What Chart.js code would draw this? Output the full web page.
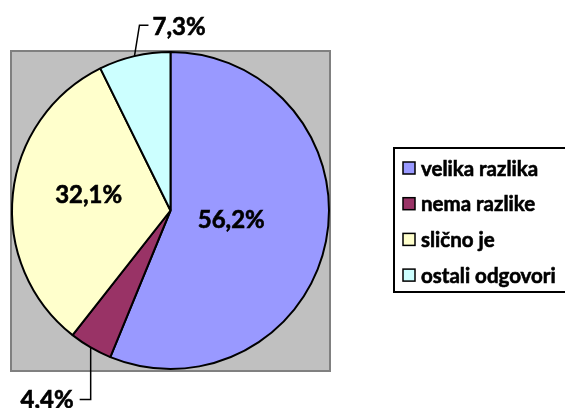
<!DOCTYPE html>
<html>
<head>
<meta charset="utf-8">
<script src="https://cdn.jsdelivr.net/npm/chart.js@4.4.1/dist/chart.umd.min.js"></script>
<style>
    html, body { margin: 0; padding: 0; background: #fff; }
    #wrap { width: 565px; height: 408px; position: relative; }
</style>
</head>
<body>
<div id="wrap"><canvas id="pieChart"></canvas></div>
<script>
(function() {
    'use strict';

    /* ---------- data ---------- */
    const categories = ['velika razlika', 'nema razlike', 'slično je', 'ostali odgovori'];
    const shares = [56.2, 4.4, 32.1, 7.3];
    const percentLabels = shares.map(v => v.toFixed(1).replace('.', ',') + '%');

    /* ---------- style ---------- */
    const sliceColors = ['#9999FF', '#993366', '#FFFFCC', '#CCFFFF'];
    const FONT = 'Lato, "Open Sans", sans-serif';

    // how each value label is placed: inside (shifted from centroid) or outside with a leader line
    const labelPlacement = [
        { inside: true, dx: -17, dy: -6 },
        { inside: false, elbow: [0, 52], tail: -11 },
        { inside: true, dx: -3, dy: -7 },
        { inside: false, elbow: [5, -31], tail: 9 }
    ];

    // fill + thin stroke so the text looks as heavy as the original
    const boldText = (ctx, text, x, y) => {
        ctx.fillText(text, x, y);
        ctx.lineWidth = 0.6;
        ctx.strokeText(text, x, y);
    };

    // gray plot area behind the pie (uses the chart area)
    const plotBackground = {
        id: 'plotBackground',
        beforeDraw(chart) {
            const { ctx, chartArea: a } = chart;
            ctx.save();
            ctx.fillStyle = '#C0C0C0';
            ctx.fillRect(a.left, a.top, a.right - a.left, a.bottom - a.top + 1);
            ctx.strokeStyle = '#808080';
            ctx.lineWidth = 2;
            ctx.strokeRect(a.left, a.top, a.right - a.left, a.bottom - a.top + 1);
            ctx.restore();
        }
    };

    // value labels + leader lines
    const valueLabels = {
        id: 'valueLabels',
        afterDatasetsDraw(chart) {
            const { ctx } = chart;
            const meta = chart.getDatasetMeta(0);
            ctx.save();
            ctx.font = 'bold 24px ' + FONT;
            ctx.fillStyle = '#000';
            ctx.strokeStyle = '#000';
            meta.data.forEach((arc, i) => {
                const p = labelPlacement[i];
                const text = percentLabels[i];
                const mid = (arc.startAngle + arc.endAngle) / 2;
                if (p.inside) {
                    const c = arc.tooltipPosition();
                    ctx.textAlign = 'center';
                    ctx.textBaseline = 'middle';
                    boldText(ctx, text, c.x + p.dx, c.y + p.dy);
                } else {
                    const x0 = arc.x + Math.cos(mid) * arc.outerRadius;
                    const y0 = arc.y + Math.sin(mid) * arc.outerRadius;
                    const x1 = x0 + p.elbow[0];
                    const y1 = y0 + p.elbow[1];
                    const x2 = x1 + p.tail;
                    ctx.lineWidth = 1.5;
                    ctx.beginPath();
                    ctx.moveTo(x0, y0);
                    ctx.lineTo(x1, y1);
                    ctx.lineTo(x2, y1);
                    ctx.stroke();
                    ctx.textBaseline = 'middle';
                    if (p.tail < 0) {
                        ctx.textAlign = 'right';
                        boldText(ctx, text, x2 - 6, y1 + 1);
                    } else {
                        ctx.textAlign = 'left';
                        boldText(ctx, text, x2 + 4, y1 + 2);
                    }
                }
            });
            ctx.restore();
        }
    };

    // boxed legend on the right
    const boxLegend = {
        id: 'boxLegend',
        afterDraw(chart) {
            const { ctx } = chart;
            const labels = chart.data.labels;
            const colors = chart.data.datasets[0].backgroundColor;
            const left = 394, top = 148, bottom = 292, rowTop = 168, rowGap = 35.7;
            ctx.save();
            ctx.strokeStyle = '#000';
            ctx.lineWidth = 2;
            ctx.strokeRect(left, top, 200, bottom - top);
            ctx.font = 'bold 20.5px ' + FONT;
            ctx.textBaseline = 'middle';
            ctx.textAlign = 'left';
            labels.forEach((lab, i) => {
                const y = rowTop + i * rowGap;
                ctx.fillStyle = colors[i];
                ctx.fillRect(403, y - 6, 12, 12);
                ctx.lineWidth = 1.5;
                ctx.strokeRect(403, y - 6, 12, 12);
                ctx.fillStyle = '#000';
                boldText(ctx, lab, 421, y + 1);
            });
            ctx.restore();
        }
    };

    const el = document.getElementById('pieChart');
    new Chart(el.getContext('2d'), {
        type: 'pie',
        data: {
            labels: categories,
            datasets: [{
                data: shares,
                backgroundColor: sliceColors,
                borderColor: '#000',
                borderWidth: 2
            }]
        },
        options: {
            responsive: true,
            maintainAspectRatio: false,
            animation: false,
            layout: { padding: { left: 11, top: 51, right: 235, bottom: 38 } },
            plugins: {
                legend: { display: false },
                tooltip: { enabled: false }
            }
        },
        plugins: [plotBackground, valueLabels, boxLegend]
    });
})();
</script>
</body>
</html>
